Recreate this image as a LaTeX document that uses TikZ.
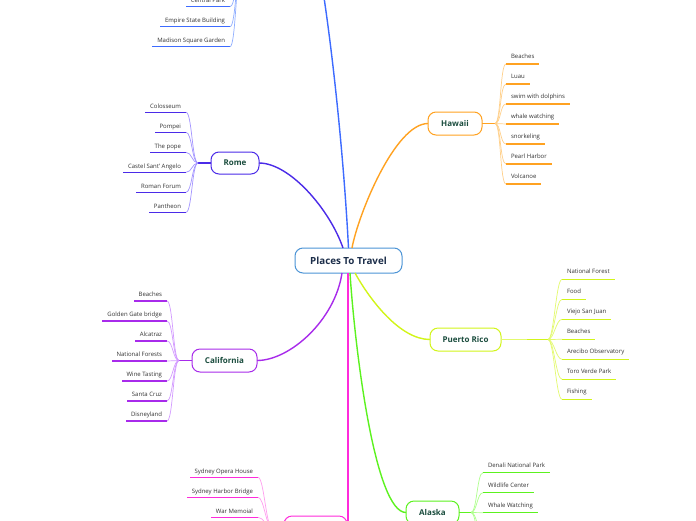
\documentclass[tikz,border=0pt]{standalone}
\usepackage{fontspec}
\setmainfont{Open Sans}
\definecolor{rootb}{HTML}{4C94D6}
\definecolor{roottext}{HTML}{1C2E4A}
\definecolor{nodetext}{HTML}{1B4D3E}
\definecolor{leaftext}{HTML}{333333}
\definecolor{nyc}{HTML}{3D6BFF}\definecolor{nyclight}{HTML}{8FAEFF}
\definecolor{rome}{HTML}{4B2BE8}\definecolor{romelight}{HTML}{A394FF}
\definecolor{haw}{HTML}{FFA221}\definecolor{hawlight}{HTML}{FFD08A}
\definecolor{pr}{HTML}{D2F51A}\definecolor{prlight}{HTML}{E3FA6E}
\definecolor{cal}{HTML}{A82BEB}\definecolor{callight}{HTML}{D39BFF}
\definecolor{ak}{HTML}{5CF21F}\definecolor{aklight}{HTML}{AEFF8C}
\definecolor{syd}{HTML}{FF2BDB}\definecolor{sydlight}{HTML}{FF9DEF}
% leaf macros: name, junction, x, y, text, colour
\newcommand\lfL[6]{%
  \node[leafL] (#1) at (#3,#4) {#5};
  \draw[line width=1.5pt,#6] (#1.south east) -- (#1.south west);
  \draw[twig,#6light] (#2) .. controls +(-6,0) and +(6,0) .. (#1.south east);}
\newcommand\lfR[6]{%
  \node[leafR] (#1) at (#3,#4) {#5};
  \draw[line width=1.5pt,#6] (#1.south west) -- (#1.south east);
  \draw[twig,#6light] (#2) .. controls +(6,0) and +(-6,0) .. (#1.south west);}
\begin{document}
\begin{tikzpicture}[x=1pt,y=-1pt,
  leaf/.style={font=\fontsize{6}{7}\selectfont, text=leaftext, inner xsep=5pt, outer sep=0pt, text height=4.4pt, text depth=1.3pt},
  leafL/.style={leaf, inner ysep=3pt, anchor=south east},
  leafR/.style={leaf, inner ysep=4.2pt, anchor=south west},
  topic/.style={draw, line width=1pt, rounded corners=8pt, fill=white, inner sep=0pt, outer sep=0pt,
    font=\fontsize{8}{9}\selectfont\bfseries, text=nodetext, minimum height=23pt},
  conn/.style={line width=1.4pt},
  stub/.style={line width=1.5pt},
  twig/.style={line width=0.7pt}]
\useasboundingbox (0,0) rectangle (696,520);
\clip (0,0) rectangle (696,520);
\fill[white] (0,0) rectangle (696,520);

% topic nodes
\node[topic, draw=rootb, text=roottext, font=\fontsize{9.8}{11}\selectfont\bfseries,
  minimum width=107pt, minimum height=25pt] (root) at (348.5,260.5) {Places To Travel};
\node[topic, draw=rome, minimum width=48pt, minimum height=22pt] (rome) at (235,163) {Rome};
\node[topic, draw=haw, minimum width=54pt] (haw) at (455,123.5) {Hawaii};
\node[topic, draw=pr, minimum width=71pt] (pr) at (465.5,339.5) {Puerto Rico};
\node[topic, draw=cal, minimum width=65pt] (cal) at (224.5,360.5) {California};
\node[topic, draw=ak, minimum width=53pt] (ak) at (432.5,512.5) {Alaska};
\node[topic, draw=syd, minimum width=63pt] (syd) at (315.5,527.5) {};

% connectors from the root
\coordinate (nycend) at (318,-40);
\draw[conn,nyc] (root.north) .. controls (344,160) and (332,40) .. (nycend);
\draw[conn,rome] ([xshift=-5.5pt]root.north) .. controls (330,210) and (290,163) .. (rome.east);
\draw[conn,haw] ([xshift=3.5pt]root.north) .. controls (358,215) and (395,123.5) .. (haw.west);
\draw[conn,cal] ([xshift=-6.5pt]root.south) .. controls (335,320) and (290,360.5) .. (cal.east);
\draw[conn,pr] ([xshift=6.5pt]root.south) .. controls (370,300) and (400,339.5) .. (pr.west);
\draw[conn,ak] ([xshift=1.5pt]root.south) .. controls (355,350) and (375,512.5) .. (ak.west);
\draw[conn,syd] ([xshift=-0.5pt]root.south) |- (syd.east);

% junctions and stubs
\coordinate (nycJ) at (242,-35);
\coordinate (romeJ) at (198,163);
\draw[stub,rome] (rome.west) -- (romeJ);
\coordinate (hawJ) at (495,123.5);
\draw[stub,haw] (haw.east) -- (hawJ);
\coordinate (prA) at (527,339.5);
\coordinate (prJ) at (548,339.5);
\draw[twig,prlight] (pr.east) -- (prA);
\draw[stub,pr] (prA) -- (prJ);
\coordinate (calJ) at (179,360.5);
\draw[stub,cal] (cal.west) -- (calJ);
\coordinate (akJ) at (471,512.5);
\draw[stub,ak] (ak.east) -- (akJ);
\coordinate (sydJ) at (272,527.5);
\draw[stub,syd] (syd.west) -- (sydJ);

% New York leaves
\lfL{n1}{nycJ}{230}{6.7}{Central Park}{nyc}
\lfL{n2}{nycJ}{230}{26.7}{Empire State Building}{nyc}
\lfL{n3}{nycJ}{230}{46.7}{Madison Square Garden}{nyc}

% Rome leaves
\lfL{r1}{romeJ}{186}{112.3}{Colosseum}{rome}
\lfL{r2}{romeJ}{186}{132.3}{Pompei}{rome}
\lfL{r3}{romeJ}{186}{152.3}{The pope}{rome}
\lfL{r4}{romeJ}{186}{172.3}{Castel Sant' Angelo}{rome}
\lfL{r5}{romeJ}{186}{192.3}{Roman Forum}{rome}
\lfL{r6}{romeJ}{186}{212.3}{Pantheon}{rome}

% Hawaii leaves
\lfR{h1}{hawJ}{506}{64}{Beaches}{haw}
\lfR{h2}{hawJ}{506}{84}{Luau}{haw}
\lfR{h3}{hawJ}{506}{104}{swim with dolphins}{haw}
\lfR{h4}{hawJ}{506}{124}{whale watching}{haw}
\lfR{h5}{hawJ}{506}{144}{snorkeling}{haw}
\lfR{h6}{hawJ}{506}{164}{Pearl Harbor}{haw}
\lfR{h7}{hawJ}{506}{184}{Volcanoe}{haw}

% Puerto Rico leaves
\lfR{p1}{prJ}{562}{279.3}{National Forest}{pr}
\lfR{p2}{prJ}{562}{299.3}{Food}{pr}
\lfR{p3}{prJ}{562}{319.3}{Viejo San Juan}{pr}
\lfR{p4}{prJ}{562}{339.3}{Beaches}{pr}
\lfR{p5}{prJ}{562}{359.3}{Arecibo Observatory}{pr}
\lfR{p6}{prJ}{562}{379.3}{Toro Verde Park}{pr}
\lfR{p7}{prJ}{562}{399.3}{Fishing}{pr}

% California leaves
\lfL{c1}{calJ}{167}{301}{Beaches}{cal}
\lfL{c2}{calJ}{167}{321}{Golden Gate bridge}{cal}
\lfL{c3}{calJ}{167}{341}{Alcatraz}{cal}
\lfL{c4}{calJ}{167}{361}{National Forests}{cal}
\lfL{c5}{calJ}{167}{381}{Wine Tasting}{cal}
\lfL{c6}{calJ}{167}{401}{Santa Cruz}{cal}
\lfL{c7}{calJ}{167}{421}{Disneyland}{cal}

% Alaska leaves
\lfR{a1}{akJ}{483}{472.7}{Denali National Park}{ak}
\lfR{a2}{akJ}{483}{492.7}{Wildlife Center}{ak}
\lfR{a3}{akJ}{483}{512.7}{Whale Watching}{ak}
\coordinate (a4) at (483,532.7);
\coordinate (a5) at (483,552.7);
\draw[twig,aklight] (akJ) .. controls +(6,0) and +(-6,0) .. (a4);
\draw[twig,aklight] (akJ) .. controls +(6,0) and +(-6,0) .. (a5);

% Sydney leaves
\lfL{s1}{sydJ}{258}{477.3}{Sydney Opera House}{syd}
\lfL{s2}{sydJ}{258}{497.3}{Sydney Harbor Bridge}{syd}
\lfL{s3}{sydJ}{258}{517.3}{War Memoial}{syd}
\end{tikzpicture}
\end{document}
